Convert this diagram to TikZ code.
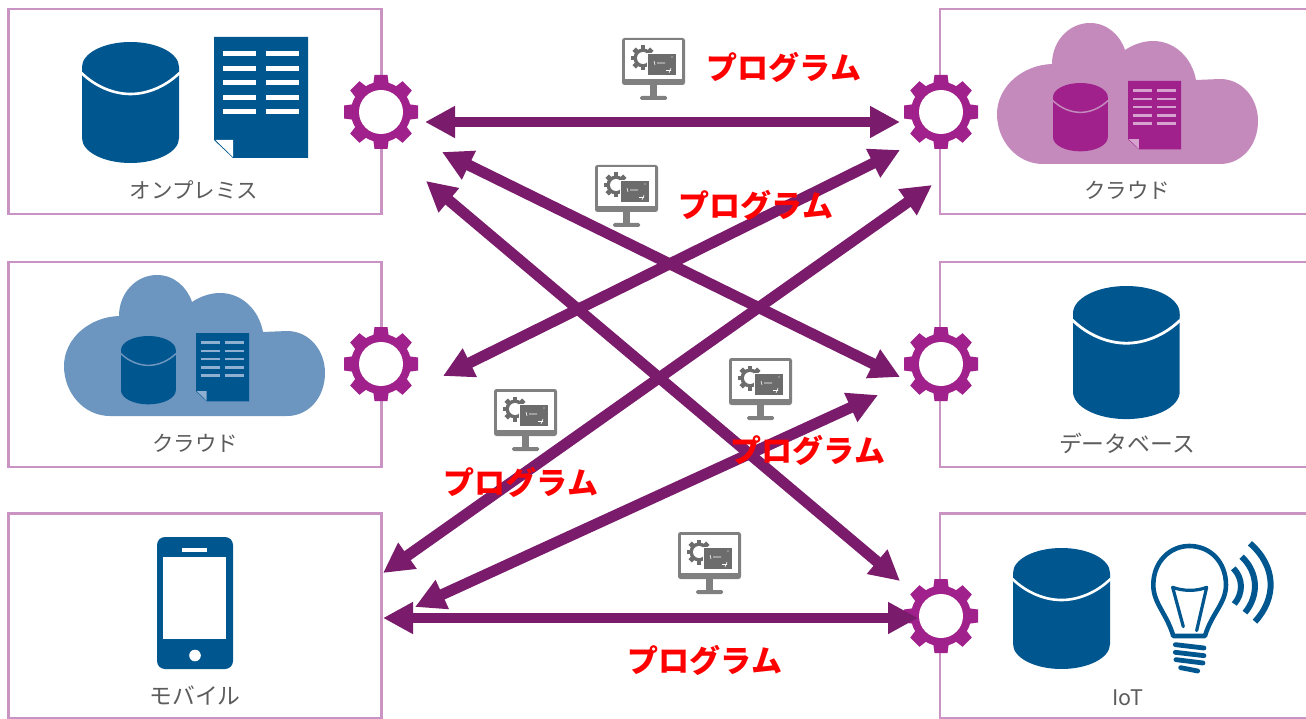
\documentclass[tikz,border=0pt]{standalone}
\usepackage{fontspec}
\newfontfamily\jpfont{Noto Sans CJK JP}
\usetikzlibrary{arrows.meta}
\definecolor{panelc}{HTML}{C994C4}
\definecolor{arrowc}{HTML}{7A1B6C}
\definecolor{gearc}{HTML}{A0218B}
\definecolor{bluec}{HTML}{00568F}
\definecolor{cloudb}{HTML}{6C95BF}
\definecolor{cloudp}{HTML}{C48ABC}
\definecolor{lineb}{HTML}{8FB0D0}
\definecolor{linep}{HTML}{D5A3CE}
\definecolor{monc}{HTML}{808080}
\definecolor{mond}{HTML}{6C6C6C}
\definecolor{labelc}{HTML}{5C5C5C}
\tikzset{
  panel/.style={draw=panelc,line width=2.5pt,fill=white,outer sep=0pt,inner sep=0pt,minimum width=373pt,minimum height=205pt},
  rpanel/.style={panel,minimum width=380pt},
  caption/.style={text=labelc,font=\jpfont\fontsize{21.5}{26}\selectfont,inner sep=0pt},
  bigcaption/.style={text=labelc,font=\jpfont\fontsize{22.8}{26}\selectfont,inner sep=0pt},
  proglabel/.style={text=red,font=\jpfont\bfseries\fontsize{31}{36}\selectfont,inner sep=0pt},
  conn/.style={draw=arrowc,line width=10pt,{Triangle[length=30pt,width=30pt,fill=arrowc]}-{Triangle[length=30pt,width=30pt,fill=arrowc]}},
  diagconn/.style={conn,line width=11pt},
  pics/gearicon/.style={code={
    \foreach \a in {0,45,...,315}{
      \fill[gearc,rotate=\a] (-8,26) -- (-6.5,37) -- (6.5,37) -- (8,26) -- cycle;
    }
    \fill[gearc] (0,0) circle[radius=30];
    \fill[white] (0,0) circle[radius=22];
  }},
  pics/dbicon/.style n args={3}{code={
    \fill[#1] (0,25) -- (0,96) .. controls (0,110) and (22,121) .. (48.5,121)
      .. controls (75,121) and (97,110) .. (97,96) -- (97,25) -- cycle;
    \fill[#1] (48.5,25) circle[x radius=48.5,y radius=25];
    \draw[#2,line width=#3] (-0.5,31) .. controls (14,45) and (32,52) .. (48.5,52) .. controls (65,52) and (83,45) .. (97.5,31);
  }},
  pics/docicon/.style n args={2}{code={
    \fill[#1] (0,0) -- (94,0) -- (94,121) -- (19,121) -- (0,103) -- cycle;
    \fill[#2] (1.5,103) -- (19,103) -- (19,120) -- cycle;
    \foreach \yy in {17,32,46,61,75}{
      \fill[#2] (9,\yy-2.5) rectangle (42,\yy+2.5);
      \fill[#2] (52,\yy-2.5) rectangle (85,\yy+2.5);
    }
  }},
  pics/cloudicon/.style={code={
    \fill[#1] (46,141) .. controls (20,141) and (0,118) .. (0,91)
      .. controls (0,64) and (25,42) .. (55,41)
      .. controls (55,18) and (72,0) .. (93,0)
      .. controls (110,0) and (123,12) .. (128,27)
      .. controls (137,21) and (147,18) .. (156,18)
      .. controls (178,18) and (195,35) .. (199,57)
      -- (223,56)
      .. controls (245,56) and (261,75) .. (261,98)
      .. controls (261,122) and (245,141) .. (223,141) -- cycle;
  }},
  pics/monitoricon/.style={code={
    \fill[monc,rounded corners=2.5pt] (0,0) rectangle (63,47);
    \fill[white] (3,2.5) rectangle (60,41);
    \fill[monc] (28,47) rectangle (35,58);
    \fill[monc,rounded corners=1.5pt] (18,58) rectangle (45,62);
    \foreach \a in {0,45,...,315}{
      \fill[mond,shift={(21,20)},rotate=\a] (-2.4,8) rectangle (2.4,12.5);
    }
    \fill[mond] (21,20) circle[radius=9.5];
    \fill[white] (21,20) circle[radius=6];
    \fill[mond,draw=white,line width=0.8pt] (25,15) rectangle (54,37);
    \draw[white,line width=0.6pt] (32,23) -- (33,27) (35,25) -- (43,25) (44,32.5) -- (49,32.5) (47,35) -- (49,30);
    \fill[white] (50,19) circle[radius=0.6];
  }}
}
\begin{document}
\begin{tikzpicture}[x=1pt,y=-1pt]
\useasboundingbox (0,0) rectangle (1306,719);
% panels
\node[panel] (bOnprem) at (195,111.5) {};
\node[panel] (bCloudL) at (195,364.5) {};
\node[panel] (bMobile) at (195,616) {};
\node[rpanel] (bCloudR) at (1130,111.5) {};
\node[rpanel] (bData) at (1130,364.5) {};
\node[rpanel] (bIot) at (1130,616) {};
% gears
\pic (gOnprem) at (381,112) {gearicon};
\pic (gCloudL) at (381,364) {gearicon};
\pic (gCloudR) at (941,112) {gearicon};
\pic (gData) at (941,364) {gearicon};
\pic (gIot) at (941,616) {gearicon};
% on-premises
\pic (dbOn) at (82,42) {dbicon={bluec}{white}{2.6pt}};
\pic (docOn) at (214,37) {docicon={bluec}{white}};
% cloud left
\pic (clL) at (64,275) {cloudicon=cloudb};
\pic[scale=0.565] (dbL) at (121,336) {dbicon={bluec}{cloudb}{1.5pt}};
\pic[scale=0.565] (docL) at (196,333) {docicon={bluec}{lineb}};
% cloud right
\pic (clR) at (997,23) {cloudicon=cloudp};
\pic[scale=0.565] (dbR) at (1053,83) {dbicon={gearc}{cloudp}{1.5pt}};
\pic[scale=0.565] (docR) at (1128,81) {docicon={gearc}{linep}};
% database
\pic[scale=1.1] (dbD) at (1073,286) {dbicon={bluec}{white}{2.8pt}};
% IoT
\pic (dbI) at (1013,548) {dbicon={bluec}{white}{2.6pt}};
\begin{scope}[shift={(900,510)},x=0.3333pt,y=-0.3333pt,bluec,line cap=round,line join=round]
  \draw[line width=4.6pt] (820,378) .. controls (800,310) and (760,280) .. (760,225)
     .. controls (760,155) and (810,108) .. (868,108)
     .. controls (930,108) and (978,155) .. (978,225)
     .. controls (978,280) and (935,310) .. (915,378) -- cycle;
  \draw[line width=3.2pt] (850,350) -- (818,232) .. controls (850,244) and (890,244) .. (920,232) -- (890,362);
  \draw[line width=4.8pt] (826,404) -- (912,414) (826,427) -- (912,437) (828,449) -- (909,459) (842,473) -- (893,483);
  \draw[line width=6pt,line cap=butt] (1000,175) .. controls (1030,205) and (1030,250) .. (1003,282);
  \draw[line width=6pt,line cap=butt] (1025,140) .. controls (1078,190) and (1075,260) .. (1035,308);
  \draw[line width=6pt,line cap=butt] (1050,100) .. controls (1130,170) and (1130,265) .. (1065,335);
\end{scope}
% phone
\fill[bluec,rounded corners=8pt] (157,537) rectangle (233,669);
\fill[white] (163,557) rectangle (226,639);
\fill[white] (182,548.3) rectangle (207,551.7);
\fill[white] (195,655.5) circle[radius=5.8];
% captions
\node[caption] (tOn) at (194,190) {オンプレミス};
\node[caption] (tCl) at (195,443) {クラウド};
\node[bigcaption] (tMo) at (195,696) {モバイル};
\node[caption] (tCr) at (1127,190) {クラウド};
\node[bigcaption] (tDa) at (1127,443) {データベース};
\node[caption] (tIo) at (1128,698) {IoT};
% connectors
\coordinate (a1) at (425,122); \coordinate (a2) at (900,122);
\coordinate (b1) at (442,152); \coordinate (b2) at (900,377);
\coordinate (c1) at (426,181); \coordinate (c2) at (900,581);
\coordinate (d1) at (443,376); \coordinate (d2) at (900,150);
\coordinate (e1) at (383,573); \coordinate (e2) at (932,185);
\coordinate (f1) at (415,607); \coordinate (f2) at (878,395);
\coordinate (g1) at (383,618); \coordinate (g2) at (918,618);
\draw[conn] (a1) -- (a2);
\draw[diagconn] (b1) -- (b2);
\draw[diagconn] (c1) -- (c2);
\draw[diagconn] (d1) -- (d2);
\draw[diagconn] (e1) -- (e2);
\draw[diagconn] (f1) -- (f2);
\draw[conn] (g1) -- (g2);
% program icons and labels
\pic (m1) at (622,38) {monitoricon};
\pic (m2) at (595,165) {monitoricon};
\pic (m3) at (729,358) {monitoricon};
\pic (m4) at (494,389) {monitoricon};
\pic (m5) at (678,532) {monitoricon};
\node[proglabel] (p1) at (784,67) {プログラム};
\node[proglabel] (p2) at (756,205) {プログラム};
\node[proglabel] (p3) at (808,450) {プログラム};
\node[proglabel] (p4) at (521,482) {プログラム};
\node[proglabel] (p5) at (705,660) {プログラム};
\end{tikzpicture}
\end{document}
